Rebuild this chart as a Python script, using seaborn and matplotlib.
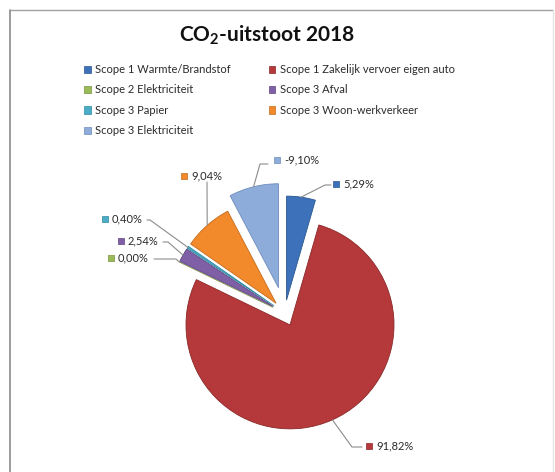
import numpy as np
import matplotlib
matplotlib.use('Agg')
import matplotlib.pyplot as plt
import seaborn as sns
from matplotlib.patches import Patch

# Data
categories = ['Scope 1 Warmte/Brandstof', 'Scope 1 Zakelijk vervoer eigen auto',
              'Scope 2 Elektriciteit', 'Scope 3 Afval', 'Scope 3 Papier',
              'Scope 3 Woon-werkverkeer', 'Scope 3 Elektriciteit']
percentages = [5.29, 91.82, 0.00, 2.54, 0.40, 9.04, -9.10]
colors = ['#3d72bb', '#b5383a', '#9bbb59', '#7f5fa6', '#4bacc6', '#f28a2c', '#8eacd9']
edge_colors = ['#2c5790', '#8a2828', '#76913f', '#5e4580', '#2f8aa3', '#c46a1b', '#6d8cbb']

# Layout (pixels, origin top-left)
W, H = 555, 472
pie_center = (284.7, 313)
pie_radius = 104
explode = [13, 13, 13, 13, 13, 13, 26]
label_pos = [(343, 184), (376, 446), (118, 258), (128, 241), (112, 219), (191, 176), (284, 160)]
knees = [(325, 185), (352, 447), (176, 259), (168, 242), (150, 220), (207, 182), (260, 164)]
ends = [(331, 185), (362, 447), (154, 259), (163, 242), (147, 220), (207, 182), (268, 164)]

sns.set_theme(style='white')
plt.rcParams['font.family'] = ['Lato', 'DejaVu Sans']
plt.rcParams['mathtext.fontset'] = 'custom'
plt.rcParams['mathtext.rm'] = 'Lato:bold'


def py(y):
    return H - y


fig = plt.figure(figsize=(W / 100, H / 100), dpi=100)
ax = fig.add_axes([0, 0, 1, 1])

sizes = np.abs(percentages)
wedges, _ = ax.pie(sizes, colors=colors, startangle=90, counterclock=False,
                   center=(pie_center[0], py(pie_center[1])), radius=pie_radius,
                   explode=explode, wedgeprops=dict(linewidth=0.6))
for w, ec in zip(wedges, edge_colors):
    w.set_edgecolor(ec)

ax.set_xlim(0, W)
ax.set_ylim(0, H)
ax.set_aspect('equal')
ax.axis('off')

# data labels with leader lines
for i, w in enumerate(wedges):
    mid = np.deg2rad((w.theta1 + w.theta2) / 2)
    cx, cy = w.center
    sx = cx + pie_radius * np.cos(mid)
    sy = cy + pie_radius * np.sin(mid)
    kx, ky = knees[i]
    ex, ey = ends[i]
    ax.plot([sx, kx, ex], [sy, py(ky), py(ey)], color='#8c8c8c', lw=0.8, zorder=1)
    tx, ty = label_pos[i]
    ax.scatter([tx - 7], [py(ty)], marker='s', s=22, color=colors[i],
               edgecolor=edge_colors[i], linewidth=0.5, zorder=3)
    txt = f'{percentages[i]:.2f}%'.replace('.', ',')
    ax.text(tx, py(ty), txt, ha='left', va='center', fontsize=8, color='#2b2b2b')

# title
ax.text(267, py(35), r'CO$_2$-uitstoot 2018', ha='center', va='center',
        fontsize=15, fontweight='bold', color='#111111')

# legend (Excel fills rows first)
handles = [Patch(facecolor=c, edgecolor=e, linewidth=0.5) for c, e in zip(colors, edge_colors)]
order = [0, 2, 4, 6, 1, 3, 5]
fig.legend([handles[i] for i in order], [categories[i] for i in order], ncol=2,
           loc='upper left', bbox_to_anchor=(84 / W, 1 - 64 / H), frameon=False,
           fontsize=8, handlelength=0.6, handleheight=0.6, handletextpad=0.4,
           columnspacing=3.4, labelspacing=0.85, borderpad=0, borderaxespad=0,
           labelcolor='#2b2b2b')

# chart frame
ax.plot([9.5, 9.5], [0, py(10)], color='#8a8a8a', lw=1.2)
ax.plot([9, 553], [py(10), py(10)], color='#a0a0a0', lw=1)
ax.plot([553, 553], [0, py(10)], color='#e4e4e4', lw=1)

fig.savefig('out.png', dpi=100)
